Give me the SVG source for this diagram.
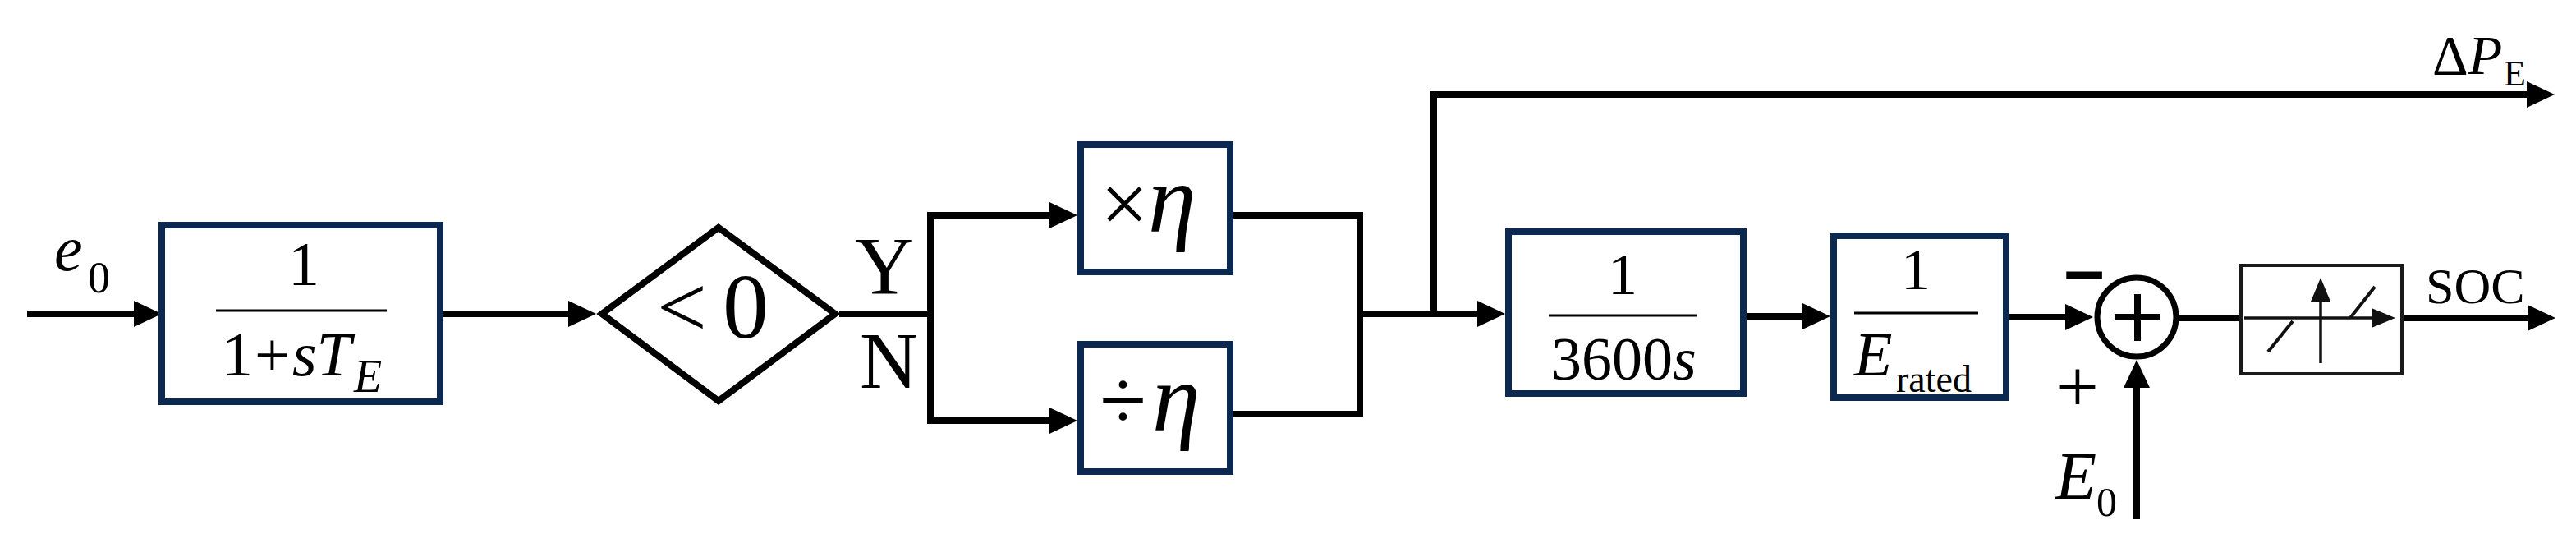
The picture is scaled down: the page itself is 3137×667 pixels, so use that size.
<svg xmlns="http://www.w3.org/2000/svg" width="3137" height="667" viewBox="0 0 3137 667">
<style>
.blk{fill:none;stroke:#0a2850;stroke-width:8}
.ln{fill:none;stroke:#000;stroke-width:8;stroke-linejoin:miter}
.thin{fill:none;stroke:#111;stroke-width:3.5}
.fl{stroke:#000;stroke-width:3}
.t{font-family:"Liberation Serif","Times New Roman",serif;fill:#000}
.i{font-style:italic}
</style>
<defs>
<marker id="ah" markerUnits="userSpaceOnUse" markerWidth="36" markerHeight="32" refX="14" refY="16" orient="auto">
<path d="M0,0 L34,16 L0,32 z" fill="#000"/>
</marker>
<marker id="ahs" markerUnits="userSpaceOnUse" markerWidth="30" markerHeight="26" refX="12" refY="12" orient="auto">
<path d="M0,0 L29,12 L0,24 z" fill="#111"/>
</marker>
</defs>
<rect width="3137" height="667" fill="#fff"/>

<g id="connectors">
<line class="ln" x1="33" y1="382" x2="177" y2="382" marker-end="url(#ah)"/>
<line class="ln" x1="540" y1="382" x2="706" y2="382" marker-end="url(#ah)"/>
<polyline class="ln" points="1022,382 1133,382"/>
<polyline class="ln" points="1292,262 1133,262 1133,512 1292,512"/>
<line class="ln" x1="1133" y1="262" x2="1292" y2="262" marker-end="url(#ah)"/>
<line class="ln" x1="1133" y1="512" x2="1292" y2="512" marker-end="url(#ah)"/>
<polyline class="ln" points="1502,262 1656,262 1656,504 1502,504"/>
<line class="ln" x1="1656" y1="382" x2="1813" y2="382" marker-end="url(#ah)"/>
<polyline class="ln" points="1746,382 1746,115 3091,115" marker-end="url(#ah)"/>
<line class="ln" x1="2127" y1="385" x2="2209" y2="385" marker-end="url(#ah)"/>
<line class="ln" x1="2447" y1="386" x2="2529" y2="386" marker-end="url(#ah)"/>
<line class="ln" x1="2602" y1="632" x2="2602" y2="458" marker-end="url(#ah)"/>
<line class="ln" x1="2654" y1="387" x2="2729" y2="387"/>
<line class="ln" x1="2927" y1="387" x2="3092" y2="387" marker-end="url(#ah)"/>
</g>

<g id="input-label">
<text class="t i" x="66" y="329" font-size="78">e</text>
<text class="t" x="107" y="356" font-size="54">0</text>
</g>

<g id="lowpass">
<rect class="blk" x="197" y="274" width="339" height="215"/>
<text class="t" x="370" y="347" font-size="76" text-anchor="middle">1</text>
<line class="fl" x1="263" y1="378" x2="471" y2="378"/>
<text class="t" x="270" y="457" font-size="76">1<tspan dx="2">+</tspan><tspan class="i" dx="3">sT</tspan></text>
<text class="t i" x="431" y="477" font-size="56">E</text>
</g>

<g id="decision">
<polygon points="733,382 875,277 1017,382 875,488" fill="none" stroke="#000" stroke-width="8"/>
<text class="t" x="800" y="410" font-size="108">&lt;</text>
<text class="t" x="880" y="411" font-size="112">0</text>
<text class="t" x="1041" y="357" font-size="100">Y</text>
<text class="t" x="1047" y="472" font-size="98">N</text>
</g>

<g id="mult">
<rect class="blk" x="1316" y="176" width="182" height="155"/>
<text class="t" x="1340" y="283" font-size="104">×</text>
<text class="t i" x="1398" y="282" font-size="118">η</text>
</g>

<g id="div">
<rect class="blk" x="1316" y="419" width="182" height="155"/>
<text class="t" x="1339" y="522" font-size="104">÷</text>
<text class="t i" x="1403" y="524" font-size="118">η</text>
</g>

<g id="integrator">
<rect class="blk" x="1837" y="282" width="286" height="197"/>
<text class="t" x="1976" y="358" font-size="72" text-anchor="middle">1</text>
<line class="fl" x1="1886" y1="384" x2="2066" y2="384"/>
<text class="t" x="1889" y="462" font-size="74">3600<tspan class="i">s</tspan></text>
</g>

<g id="normalize">
<rect class="blk" x="2233" y="287" width="210" height="197"/>
<text class="t" x="2333" y="352" font-size="72" text-anchor="middle">1</text>
<line class="fl" x1="2258" y1="381" x2="2409" y2="381"/>
<text class="t i" x="2258" y="457" font-size="76">E</text>
<text class="t" x="2309" y="477" font-size="46">rated</text>
</g>

<g id="summer">
<circle cx="2602" cy="386" r="48" fill="none" stroke="#000" stroke-width="7"/>
<line x1="2575" y1="386" x2="2631" y2="386" stroke="#000" stroke-width="8"/>
<line x1="2603" y1="358" x2="2603" y2="415" stroke="#000" stroke-width="8"/>
<text class="t" x="2513" y="366" font-size="92" font-weight="bold" stroke="#000" stroke-width="3" textLength="50" lengthAdjust="spacingAndGlyphs">−</text>
<text class="t" x="2504" y="501" font-size="92">+</text>
<text class="t i" x="2503" y="607" font-size="82">E</text>
<text class="t" x="2553" y="628" font-size="50">0</text>
</g>

<g id="saturation">
<rect x="2729" y="323" width="196" height="132" fill="none" stroke="#1a1a1a" stroke-width="4"/>
<line class="thin" x1="2733" y1="387" x2="2900" y2="387" marker-end="url(#ahs)"/>
<line class="thin" x1="2826" y1="442" x2="2826" y2="355" marker-end="url(#ahs)"/>
<line x1="2762" y1="428" x2="2792" y2="391" stroke="#111" stroke-width="4"/>
<line x1="2862" y1="387" x2="2892" y2="349" stroke="#111" stroke-width="4"/>
</g>

<g id="output-labels">
<text class="t" x="2954" y="369" font-size="62">SOC</text>
<text class="t" x="2962" y="90" font-size="68">Δ<tspan class="i">P</tspan></text>
<text class="t" x="3049" y="104" font-size="44">E</text>
</g>
</svg>
